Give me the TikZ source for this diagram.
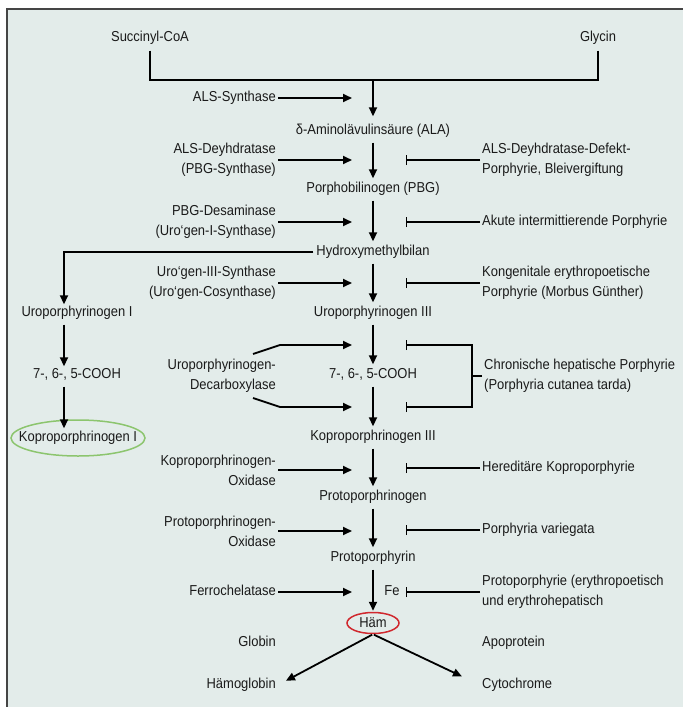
\documentclass[tikz,border=0pt]{standalone}
\usepackage{fontspec}
\setmainfont{Liberation Sans}[FakeStretch=0.9]
\usetikzlibrary{arrows.meta,shapes.geometric}
\definecolor{bgc}{HTML}{E3ECEA}
\definecolor{framec}{HTML}{454545}
\definecolor{txt}{HTML}{1A1A1A}
\definecolor{kgreen}{HTML}{8CC56E}
\definecolor{hred}{HTML}{D0282E}
\begin{document}
\begin{tikzpicture}[x=1pt,y=-1pt,
  every node/.style={font=\fontsize{14.4}{20}\selectfont, text=txt, inner sep=2pt},
  lbl/.style={text height=10pt, text depth=3pt},
  enz/.style={anchor=east, align=right},
  dis/.style={anchor=west, align=left},
  ln/.style={line width=1.8pt},
  arr/.style={line width=1.8pt, -{Triangle[length=9pt,width=8pt]}},
  varr/.style={arr, shorten <=3pt, shorten >=2pt},
  inh/.style={line width=1.4pt, -{Bar[width=10pt,line width=1.4pt]}},
  bars/.style={line width=1.4pt, {Bar[width=10pt,line width=1.4pt]}-{Bar[width=10pt,line width=1.4pt]}},
]
\useasboundingbox (0,0) rectangle (683,707);
\fill[bgc] (7,9) rectangle (683,707);
\draw[framec, line width=2pt] (7,707) -- (7,9) -- (683,9);

% helper x positions
\coordinate (ex) at (352,0);
\coordinate (bx) at (406,0);

% top
\node[lbl] (succ) at (150,38) {Succinyl-CoA};
\node[lbl] (gly) at (598,38) {Glycin};
\coordinate (j) at (373,80);
\draw[ln, shorten <=4pt] (succ.south) |- (j);
\draw[ln, shorten <=4pt] (gly.south) |- (j);

% main column
\node[lbl] (ala) at (373,131) {δ-Aminolävulinsäure (ALA)};
\node[lbl] (pbg) at (373,189) {Porphobilinogen (PBG)};
\node[lbl] (hmb) at (373,252) {Hydroxymethylbilan};
\node[lbl] (uro3) at (373,313) {Uroporphyrinogen III};
\node[lbl] (cooh3) at (373,375) {7-, 6-, 5-COOH};
\node[lbl] (kop3) at (373,437) {Koproporphrinogen III};
\node[lbl] (proto) at (373,497) {Protoporphrinogen};
\node[lbl] (protoh) at (373,558) {Protoporphyrin};
\node[ellipse, draw=hred, line width=1.5pt, minimum width=52pt, minimum height=21pt, inner sep=0pt] (ham) at (373,623) {Häm};

\draw[arr, shorten >=6pt] (j) -- (ala);
\draw[varr] (ala) -- (pbg);
\draw[varr] (pbg) -- (hmb);
\draw[varr] (hmb) -- (uro3);
\draw[varr] (uro3) -- (cooh3);
\draw[varr] (cooh3) -- (kop3);
\draw[varr] (kop3) -- (proto);
\draw[varr] (proto) -- (protoh);
\draw[arr, shorten <=3pt, shorten >=1pt] (protoh) -- (ham);

% left column
\node[lbl] (uro1) at (77,313) {Uroporphyrinogen I};
\node[lbl] (cooh1) at (77,375) {7-, 6-, 5-COOH};
\node[lbl] (kop1) at (78,438) {Koproporphrinogen I};
\draw[kgreen, line width=1.5pt] (kop1.center) ellipse [x radius=67pt, y radius=18pt];
\coordinate (lx) at (64,0);
\draw[arr, shorten <=1pt] (hmb.west) -| (uro1.north -| lx);
\draw[arr, shorten <=3pt] (uro1.south -| lx) -- (cooh1.north -| lx);
\draw[arr, shorten <=3pt, shorten >=1pt] (cooh1.south -| lx) -- (kop1.north -| lx);

% enzymes
\node[lbl, enz] (e1) at (278,98) {ALS-Synthase};
\node[enz] (e2) at (278,160) {ALS-Deyhdratase\\(PBG-Synthase)};
\node[enz] (e3) at (278,222) {PBG-Desaminase\\(Uro‘gen-I-Synthase)};
\node[enz] (e4) at (278,283) {Uro‘gen-III-Synthase\\(Uro‘gen-Cosynthase)};
\node[enz] (e5) at (278,376) {Uroporphyrinogen-\\Decarboxylase};
\node[enz] (e6) at (278,470) {Koproporphrinogen-\\Oxidase};
\node[enz] (e7) at (278,531) {Protoporphrinogen-\\Oxidase};
\node[lbl, enz] (e8) at (278,592) {Ferrochelatase};

\draw[arr] (e1.east) -- (e1.east -| ex);
\draw[arr] (e2.east) -- (e2.east -| ex);
\draw[arr] (e3.east) -- (e3.east -| ex);
\draw[arr] (e4.east) -- (e4.east -| ex);
\draw[arr] (e6.east) -- (e6.east -| ex);
\draw[arr] (e7.east) -- (e7.east -| ex);
\draw[arr] (e8.east) -- (e8.east -| ex);

\coordinate (du0) at (253,354);
\coordinate (du1) at (280,345);
\coordinate (du2) at (352,345);
\coordinate (dl0) at (253,398);
\coordinate (dl1) at (280,407);
\coordinate (dl2) at (352,407);
\draw[arr] (du0) -- (du1) -- (du2);
\draw[arr] (dl0) -- (dl1) -- (dl2);

% diseases
\node[dis] (d2) at (480,160) {ALS-Deyhdratase-Defekt-\\Porphyrie, Bleivergiftung};
\node[lbl, dis] (d3) at (480,222) {Akute intermittierende Porphyrie};
\node[dis] (d4) at (480,283) {Kongenitale erythropoetische\\Porphyrie (Morbus Günther)};
\node[dis] (d5) at (482,376) {Chronische hepatische Porphyrie\\(Porphyria cutanea tarda)};
\node[lbl, dis] (d6) at (480,468) {Hereditäre Koproporphyrie};
\node[lbl, dis] (d7) at (480,530) {Porphyria variegata};
\node[dis] (d8) at (480,592) {Protoporphyrie (erythropoetisch\\und erythrohepatisch};

\draw[inh] (d2.west) -- (d2.west -| bx);
\draw[inh] (d3.west) -- (d3.west -| bx);
\draw[inh] (d4.west) -- (d4.west -| bx);
\draw[inh] (d6.west) -- (d6.west -| bx);
\draw[inh] (d7.west) -- (d7.west -| bx);
\draw[inh] (d8.west) -- (d8.west -| bx);

\coordinate (cu) at (406,345);
\coordinate (bu) at (472,345);
\coordinate (bl) at (472,407);
\coordinate (cl) at (406,407);
\draw[bars] (cu) -- (bu) -- (bl) -- (cl);
\draw[line width=1.4pt] (d5.west) -- (d5.west -| bu);

\node[lbl] (fe) at (392,592) {Fe};

% bottom
\node[lbl, enz] (glob) at (278,643) {Globin};
\node[lbl, dis] (apo) at (480,643) {Apoprotein};
\node[lbl, enz] (hglob) at (278,685) {Hämoglobin};
\node[lbl, dis] (cyto) at (480,685) {Cytochrome};
\draw[arr, shorten <=1pt, shorten >=9pt] (ham.south) -- (hglob.east);
\draw[arr, shorten <=1pt, shorten >=20pt] (ham.south) -- (cyto.west);
\end{tikzpicture}
\end{document}
